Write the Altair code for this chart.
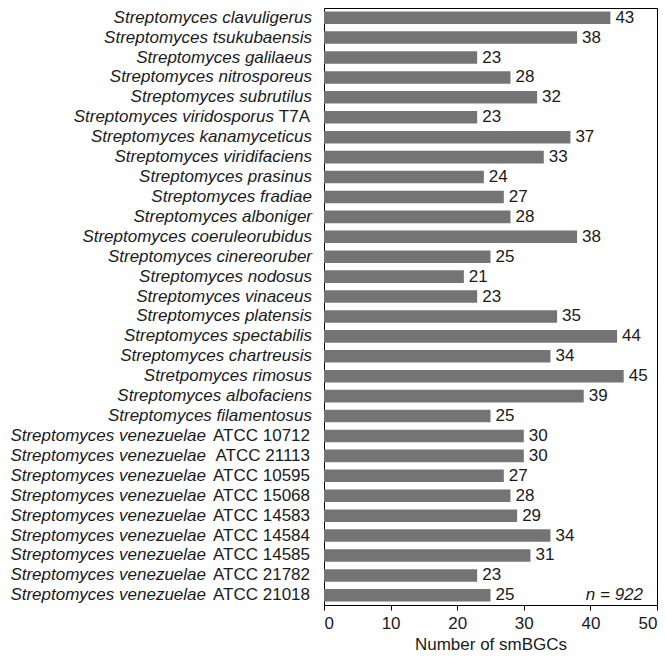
import altair as alt
import pandas as pd

species = [
    "Streptomyces clavuligerus", "Streptomyces tsukubaensis", "Streptomyces galilaeus",
    "Streptomyces nitrosporeus", "Streptomyces subrutilus", "Streptomyces viridosporus",
    "Streptomyces kanamyceticus", "Streptomyces viridifaciens", "Streptomyces prasinus",
    "Streptomyces fradiae", "Streptomyces alboniger", "Streptomyces coeruleorubidus",
    "Streptomyces cinereoruber", "Streptomyces nodosus", "Streptomyces vinaceus",
    "Streptomyces platensis", "Streptomyces spectabilis", "Streptomyces chartreusis",
    "Stretpomyces rimosus", "Streptomyces albofaciens", "Streptomyces filamentosus",
    "Streptomyces venezuelae", "Streptomyces venezuelae", "Streptomyces venezuelae",
    "Streptomyces venezuelae", "Streptomyces venezuelae", "Streptomyces venezuelae",
    "Streptomyces venezuelae", "Streptomyces venezuelae", "Streptomyces venezuelae",
]
strains = [
    "", "", "", "", "", "T7A", "", "", "", "", "", "", "", "", "", "", "", "", "", "", "",
    "ATCC 10712", "ATCC 21113", "ATCC 10595", "ATCC 15068", "ATCC 14583",
    "ATCC 14584", "ATCC 14585", "ATCC 21782", "ATCC 21018",
]
values = [43, 38, 23, 28, 32, 23, 37, 33, 24, 27, 28, 38, 25, 21, 23, 35, 44, 34, 45, 39, 25,
          30, 30, 27, 28, 29, 34, 31, 23, 25]

keys = [f"{s} {t}".strip() for s, t in zip(species, strains)]
group = ["atcc" if t.startswith("ATCC") else ("t7a" if t else "none") for t in strains]
df = pd.DataFrame({"key": keys, "species": species, "strain": strains,
                   "value": values, "group": group})

W, H = 333, 597
FONT = "Liberation Sans"
TXT = "#1a1a1a"
LFS = 17

yenc = alt.Y("key:N", sort=keys, axis=None,
             scale=alt.Scale(paddingInner=0.37, paddingOuter=0.17))
xenc = alt.X("value:Q", scale=alt.Scale(domain=[0, 50], nice=False),
             axis=alt.Axis(values=[0, 10, 20, 30, 40, 50], title="Number of smBGCs",
                           grid=False, domainColor="black", tickColor="black",
                           tickSize=5, labelFontSize=17, titleFontSize=17,
                           labelColor=TXT, titleColor=TXT, labelFont=FONT,
                           titleFont=FONT, titleFontWeight="normal", labelPadding=5,
                           titlePadding=5))

base = alt.Chart(df)
bars = base.mark_bar(color="#747474").encode(x=xenc, y=yenc)
vals = base.mark_text(align="left", dx=5, fontSize=17, font=FONT, color=TXT).encode(
    x="value:Q", y=yenc, text="value:Q")

def italic_layer(g, xpos):
    return base.transform_filter(alt.datum.group == g).mark_text(
        align="right", fontSize=LFS, font=FONT, fontStyle="italic", color=TXT
    ).encode(x=alt.value(xpos), y=yenc, text="species:N")

lab_none = italic_layer("none", -12)
lab_t7a = italic_layer("t7a", -50)
lab_atcc = italic_layer("atcc", -118)
lab_strain = base.transform_filter(alt.datum.group != "none").mark_text(
    align="right", fontSize=LFS, font=FONT, color=TXT
).encode(x=alt.value(-14), y=yenc, text="strain:N")

nlab = alt.Chart(pd.DataFrame({"t": ["n = 922"], "key": [keys[-1]]})).mark_text(
    align="right", fontSize=17, font=FONT, fontStyle="italic", color=TXT
).encode(x=alt.value(W - 14), y=yenc, text="t:N")

chart = alt.layer(bars, vals, lab_none, lab_t7a, lab_atcc, lab_strain, nlab).properties(
    width=W, height=H,
    autosize=alt.AutoSizeParams(type="none"),
    padding={"left": 316, "top": 0, "right": 1, "bottom": 52},
).configure_view(stroke="black", strokeWidth=1)

chart.save("out.html", embed_options={"renderer": "svg", "actions": False})
